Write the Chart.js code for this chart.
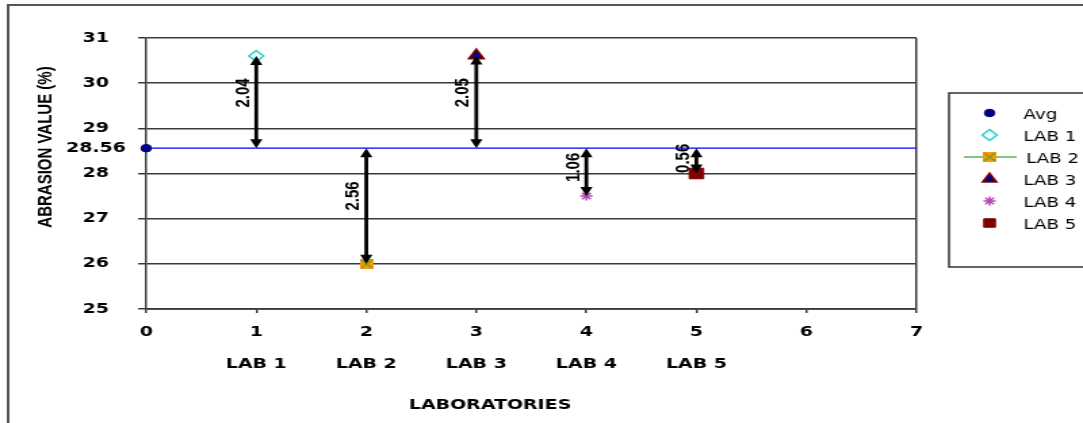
<!DOCTYPE html>
<html>
<head>
<meta charset="utf-8">
<script src="https://cdn.jsdelivr.net/npm/chart.js@4"></script>
<style>
  html, body { margin: 0; padding: 0; background: #fff; overflow: hidden; }
  /* the chart is laid out on an 800px canvas and widened to fill the 1083px frame */
  #wrap { width: 800px; height: 423px; transform: scaleX(1.35375); transform-origin: 0 0; }
  canvas { display: block; }
</style>
</head>
<body>
<div id="wrap"><canvas id="chart" width="800" height="423"></canvas></div>
<script>
// ---- data ----
const avgValue = 28.56;
const labNames = ['LAB 1', 'LAB 2', 'LAB 3', 'LAB 4', 'LAB 5'];
const labPositions = [1, 2, 3, 4, 5];
const labValues = [30.60, 26.00, 30.61, 27.50, 28.00];
const yTickValues = [25, 26, 27, 28, 28.56, 29, 30, 31];
const xTickValues = [0, 1, 2, 3, 4, 5, 6, 7];
const xRange = [0, 7];
const yRange = [25, 31];

const AXIS = '#3a3a3a';
const TICK_FONT = { family: 'DejaVu Sans', weight: 'bold', size: 14 };

// orange square crossed by a green X
function squareCross() {
  const c = document.createElement('canvas');
  c.width = 10; c.height = 10;
  const g = c.getContext('2d');
  g.fillStyle = '#ff9900';
  g.fillRect(0, 0, 10, 10);
  g.strokeStyle = '#6f9a3a';
  g.lineWidth = 1.3;
  g.beginPath();
  g.moveTo(1, 1); g.lineTo(9, 9);
  g.moveTo(9, 1); g.lineTo(1, 9);
  g.stroke();
  return c;
}

const labStyles = [
  { pointStyle: 'rectRot', pointRadius: 5.5, backgroundColor: '#e6ffff', borderColor: '#33cccc', borderWidth: 1.5 },
  { pointStyle: squareCross(), pointRadius: 6, backgroundColor: '#ff9900', borderColor: '#7fc77f', borderWidth: 2, showLine: true },
  { pointStyle: 'triangle', pointRadius: 6.5, backgroundColor: '#000080', borderColor: '#800000', borderWidth: 1.5 },
  { pointStyle: 'star', pointRadius: 4.5, backgroundColor: '#b44bb4', borderColor: '#b44bb4', borderWidth: 1.5 },
  { pointStyle: 'rect', pointRadius: 7.5, backgroundColor: '#800000', borderColor: '#800000', borderWidth: 1 }
];

const datasets = [
  {
    label: 'Avg',
    data: [{ x: xRange[0], y: avgValue }],
    pointStyle: 'circle', pointRadius: 3.8,
    backgroundColor: '#000080', borderColor: '#000080', borderWidth: 1,
    clip: false
  },
  ...labNames.map((name, i) => Object.assign({
    label: name,
    data: [{ x: labPositions[i], y: labValues[i] }],
    clip: false
  }, labStyles[i])),
  {
    // horizontal reference line at the average
    label: '',
    data: [{ x: xRange[0], y: avgValue }, { x: xRange[1], y: avgValue }],
    showLine: true, pointRadius: 0, borderColor: '#0000ff', borderWidth: 1.2,
    clip: false
  }
];

// arrows from the average line to each laboratory value, with the gap written beside them
const gapArrows = {
  id: 'gapArrows',
  afterDatasetsDraw(chart) {
    const { ctx } = chart;
    const xs = chart.scales.x, ys = chart.scales.y;
    const yAvg = ys.getPixelForValue(avgValue);
    labValues.forEach((v, i) => {
      const x = xs.getPixelForValue(labPositions[i]);
      const yv = ys.getPixelForValue(v);
      const top = Math.min(yAvg, yv), bot = Math.max(yAvg, yv);
      const hw = 4.5, hh = 9;
      ctx.save();
      ctx.strokeStyle = '#000';
      ctx.fillStyle = '#000';
      ctx.lineWidth = 2.8;
      ctx.beginPath();
      ctx.moveTo(x, top + hh - 1);
      ctx.lineTo(x, bot - hh + 1);
      ctx.stroke();
      ctx.beginPath();
      ctx.moveTo(x, top); ctx.lineTo(x - hw, top + hh); ctx.lineTo(x + hw, top + hh); ctx.closePath();
      ctx.moveTo(x, bot); ctx.lineTo(x - hw, bot - hh); ctx.lineTo(x + hw, bot - hh); ctx.closePath();
      ctx.fill();
      const len = bot - top;
      const mid = (top + bot) / 2 - Math.min(10, len * 0.1);
      ctx.translate(x - 9.5, mid);
      ctx.rotate(-Math.PI / 2);
      ctx.font = 'bold 15px "Liberation Sans", Arial, sans-serif';
      ctx.textAlign = 'center';
      ctx.textBaseline = 'middle';
      ctx.fillText(Math.abs(v - avgValue).toFixed(2), 0, 0);
      ctx.restore();
    });
  }
};

// frame, axis titles and the legend panel
const decorations = {
  id: 'decorations',
  afterDraw(chart) {
    const { ctx } = chart;
    ctx.save();
    // outer frame
    ctx.strokeStyle = '#555';
    ctx.lineWidth = 2;
    ctx.beginPath();
    ctx.moveTo(6, 430); ctx.lineTo(6, 5); ctx.lineTo(810, 5);
    ctx.stroke();

    // axis titles
    ctx.fillStyle = '#000';
    ctx.textAlign = 'center';
    ctx.textBaseline = 'middle';
    ctx.font = 'bold 14px "DejaVu Sans", sans-serif';
    ctx.fillText('LABORATORIES', 362, 405);
    ctx.save();
    ctx.translate(34, 147);
    ctx.rotate(-Math.PI / 2);
    ctx.font = 'bold 15px "Liberation Sans", Arial, sans-serif';
    ctx.fillText('ABRASION VALUE (%)', 0, 0);
    ctx.restore();

    // legend panel
    ctx.strokeStyle = '#333';
    ctx.lineWidth = 1.5;
    ctx.strokeRect(701, 93, 200, 174);
    const entries = chart.data.datasets.filter(d => d.label);
    entries.forEach((d, i) => {
      const y = 113 + i * 22;
      const mx = 731;
      if (d.showLine) {
        ctx.strokeStyle = d.borderColor;
        ctx.lineWidth = 2;
        ctx.beginPath();
        ctx.moveTo(712, y); ctx.lineTo(751, y);
        ctx.stroke();
      }
      ctx.fillStyle = d.backgroundColor;
      ctx.strokeStyle = d.borderColor;
      ctx.lineWidth = d.borderWidth;
      Chart.helpers.drawPoint(ctx, {
        pointStyle: d.pointStyle, radius: Math.min(d.pointRadius, 6), rotation: 0, borderWidth: d.borderWidth
      }, mx, y);
      ctx.fillStyle = '#000';
      ctx.textAlign = 'left';
      ctx.textBaseline = 'middle';
      ctx.font = '13.5px "DejaVu Sans", sans-serif';
      ctx.fillText(d.label, d.showLine ? 758 : 756, y + 2);
    });
    ctx.restore();
  }
};

new Chart(document.getElementById('chart'), {
  type: 'scatter',
  data: { datasets },
  options: {
    responsive: false,
    animation: false,
    devicePixelRatio: 1,
    layout: { padding: { top: 38, right: 123, left: 0, bottom: 0 } },
    plugins: { legend: { display: false }, tooltip: { enabled: false } },
    scales: {
      x: {
        type: 'linear', position: 'bottom', min: xRange[0], max: xRange[1],
        afterBuildTicks: s => { s.ticks = xTickValues.map(v => ({ value: v })); },
        afterFit: s => { s.height = 40; },
        ticks: { font: TICK_FONT, color: '#000', padding: 11, autoSkip: false, maxRotation: 0, callback: v => String(v) },
        grid: {
          color: c => (c.tick && c.tick.value === xRange[1]) ? AXIS : 'rgba(0,0,0,0)',
          tickColor: AXIS, tickLength: 4, lineWidth: 1.5
        },
        border: { color: AXIS, width: 1.8 }
      },
      labs: {
        type: 'linear', position: 'bottom', min: xRange[0], max: xRange[1],
        afterBuildTicks: s => { s.ticks = labPositions.map(v => ({ value: v })); },
        afterFit: s => { s.height = 74; },
        ticks: { font: TICK_FONT, color: '#000', padding: 7, autoSkip: false, maxRotation: 0,
                 callback: v => labNames[labPositions.indexOf(v)] },
        grid: { display: false, drawTicks: false },
        border: { display: false }
      },
      y: {
        type: 'linear', position: 'left', min: yRange[0], max: yRange[1],
        afterBuildTicks: s => { s.ticks = yTickValues.map(v => ({ value: v })); },
        afterFit: s => { s.width = 108; },
        ticks: { font: TICK_FONT, color: '#000', padding: 9, crossAlign: 'center', autoSkip: false,
                 callback: v => String(v) },
        grid: {
          color: c => (c.tick && c.tick.value === avgValue) ? 'rgba(0,0,0,0)' : AXIS,
          tickColor: c => (c.tick && c.tick.value === avgValue) ? 'rgba(0,0,0,0)' : AXIS,
          tickLength: 6, lineWidth: 1.5
        },
        border: { color: AXIS, width: 1.5 }
      }
    }
  },
  plugins: [gapArrows, decorations]
});
</script>
</body>
</html>
